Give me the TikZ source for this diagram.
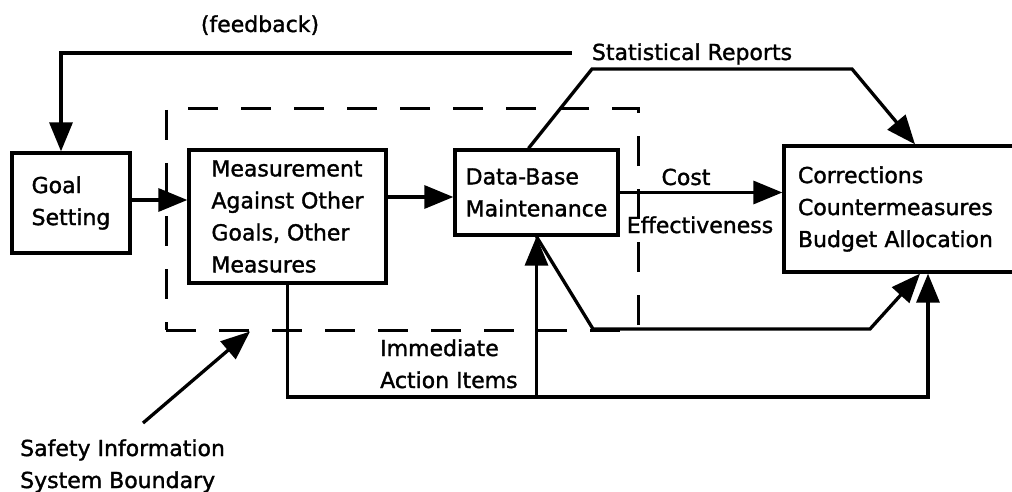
\documentclass[tikz,border=0pt]{standalone}
\usepackage{fontspec}
\setmainfont{DejaVu Sans}[UprightFeatures={FakeBold=1.5}]
\usetikzlibrary{arrows.meta}

\begin{document}
\begin{tikzpicture}[x=1pt, y=-1pt,
  every node/.style={font=\fontsize{22}{32}\selectfont},
  block/.style={draw, line width=3.3pt, rectangle, inner sep=0pt, align=left},
  flow/.style={line width=3.3pt, -{Triangle[length=29pt,width=23pt]}},
  boundary/.style={draw, line width=3pt, dash pattern=on 30pt off 23pt, inner sep=0pt},
  lbl/.style={inner sep=0pt, align=left}]
\useasboundingbox (0,0) rectangle (1012,492);

% system boundary
\node[boundary, minimum width=472pt, minimum height=221pt] (sis) at (402,219.5) {};

% blocks
\node[block, minimum width=118pt, minimum height=100pt] (goal) at (71,203) {Goal\\Setting};
\node[block, minimum width=197pt, minimum height=133pt] (meas) at (287.5,216.5)
  {Measurement\\Against Other\\Goals, Other\\Measures};
\node[block, minimum width=163pt, minimum height=85pt] (db) at (536.5,192.5)
  {Data-Base\\Maintenance};
\node[block, minimum width=232pt, minimum height=126pt, text width=204pt] (corr) at (900,209)
  {Corrections\\Countermeasures\\Budget Allocation};

% labels
\node[lbl, anchor=base] (fb) at (260,32) {(feedback)};
\node[lbl, anchor=base] (stat) at (692,60) {Statistical Reports};
\node[lbl, anchor=base] (cost) at (686,185) {Cost};
\node[lbl, anchor=base] (eff) at (700,233) {Effectiveness};
\node[lbl, anchor=base west] (iai) at (380,388) {Immediate\\Action Items};
\node[lbl, anchor=base west] (sisl) at (20,488) {Safety Information\\System Boundary};

% helper points
\coordinate (low) at (0,397);
\coordinate (corrB) at ([xshift=28pt]corr.south);
\coordinate (corrD) at ([xshift=20pt]corr.south);
\coordinate (sbtail) at (143,423);

% feedback to goal setting
\draw[flow] ([xshift=-20pt]stat.west |- 0,53) -| ([xshift=-10pt]goal.north);

% main chain
\draw[flow] (goal.east |- 0,200) -- (meas.west |- 0,200);
\draw[flow] (meas.east |- 0,197) -- (db.west |- 0,197);
\draw[flow] (db.east) -- (db.east -| corr.west);

% statistical reports
\draw[flow] ([xshift=-8pt]db.north) -- (592,69) -- (852,69) -- ([xshift=15pt]corr.north);

% immediate action items
\draw[flow] (meas.south) |- (corrB |- low) -- (corrB);
\draw[flow] (db.south |- low) -- (db.south);
\draw[flow] (db.south) -- (593,329) -- (870,329) -- (corrD);

% boundary pointer
\draw[flow] (sbtail) -- ([xshift=-152pt]sis.south);
\end{tikzpicture}
\end{document}
